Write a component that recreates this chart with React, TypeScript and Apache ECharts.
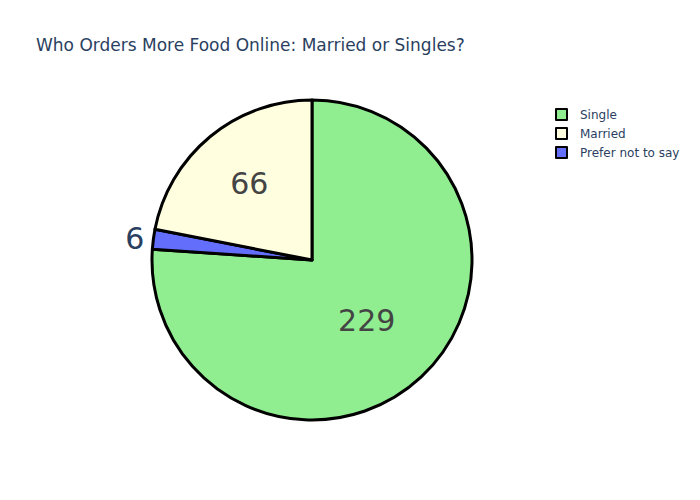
import React, { useEffect, useRef } from "react";
import * as echarts from "echarts";

const categories = ["Single", "Prefer not to say", "Married"];
const values = [229, 6, 66];
const colors = ["#90EE90", "#636EFA", "#FFFFE0"];
const legendOrder = ["Single", "Married", "Prefer not to say"];
const titleText = "Who Orders More Food Online: Married or Singles?";

export default function App() {
  const ref = useRef<HTMLDivElement>(null);
  useEffect(() => {
    if (!ref.current) return;
    const chart = echarts.init(ref.current, null, { renderer: "svg" });
    const font = "'DejaVu Sans', Verdana, sans-serif";
    chart.setOption({
      animation: false,
      backgroundColor: "#ffffff",
      title: {
        text: titleText,
        left: 31,
        top: 31,
        textStyle: { fontFamily: font, fontSize: 17, fontWeight: "normal", color: "#2a3f5f" },
      },
      legend: {
        data: legendOrder,
        orient: "vertical",
        left: 550,
        top: 103,
        itemWidth: 11,
        itemHeight: 11,
        itemGap: 6,
        icon: "rect",
        itemStyle: { borderColor: "#000", borderWidth: 2 },
        textStyle: { fontFamily: font, fontSize: 12, color: "#2a3f5f", padding: [0, 0, 0, 8] },
      },
      series: [
        {
          type: "pie",
          center: [312, 260],
          radius: [0, 160],
          startAngle: 90,
          clockwise: true,
          avoidLabelOverlap: false,
          itemStyle: { borderColor: "#000", borderWidth: 3 },
          label: {
            show: true,
            position: "inside",
            formatter: "{c}",
            fontFamily: font,
            fontSize: 30,
            color: "#444444",
          },
          labelLine: { show: false },
          emphasis: { disabled: true },
          data: categories.map((name, i) => {
            const item: any = { name, value: values[i], itemStyle: { color: colors[i] } };
            if (values[i] < 20) {
              item.label = { position: "outside", color: "#2a3f5f", fontSize: 30 };
              item.labelLine = { show: false, length: 4, length2: 0 };
            } else if (name === "Married") {
              item.label = {
                formatter: "{v|{c}}\n{s| }",
                padding: [0, 20, 0, 0],
                rich: {
                  v: { fontFamily: font, fontSize: 30, color: "#444444" },
                  s: { height: 24, fontSize: 1 },
                },
              };
            } else {
              item.label = { padding: [0, 4, 0, 0] };
            }
            return item;
          }),
        },
      ],
    });
    return () => chart.dispose();
  }, []);
  return (
    <div
      ref={ref}
      style={{ position: "fixed", left: 0, top: 0, width: 700, height: 500 }}
    />
  );
}
